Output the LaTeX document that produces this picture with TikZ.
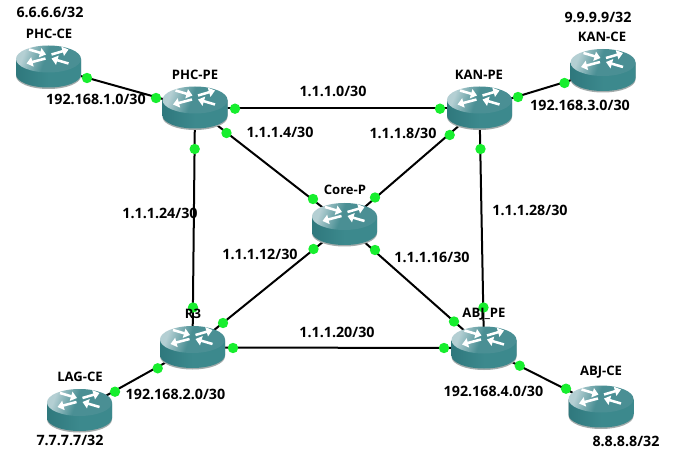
\documentclass[tikz,border=0pt]{standalone}
\usepackage{fontspec}
\setmainfont{Open Sans}
\usetikzlibrary{arrows.meta}
\definecolor{portgreen}{HTML}{17EE2E}
\definecolor{rlight}{HTML}{B4CFD3}
\definecolor{rmid}{HTML}{4A8F94}
\definecolor{rside}{HTML}{3C898D}
\definecolor{rsidedark}{HTML}{2F787D}
\definecolor{rshadow}{HTML}{A3ABAB}
\pgfdeclarehorizontalshading{toplight}{100bp}{color(0bp)=(rlight); color(27bp)=(rlight); color(47bp)=(rmid); color(100bp)=(rmid)}
\tikzset{
  routerpt/.style={inner sep=0pt,minimum size=0.5pt,outer sep=0pt},
  link/.style={line width=1.5pt,black},
  port/.style={circle,fill=portgreen,inner sep=0pt,minimum size=7.8pt},
  rname/.style={inner sep=0pt,font=\bfseries\fontsize{9.8}{11}\selectfont},
  addr/.style={inner sep=0pt,font=\bfseries\fontsize{10.7}{12}\selectfont},
  rarrow/.style={white,line width=1.9pt,-{Triangle[length=4.6pt,width=7pt]}},
}
\newcommand{\routerart}[1]{%
  \begin{scope}[shift={(#1)}]
    \fill[rshadow] (-32.5,-7) -- (-32.5,9) arc[start angle=180,end angle=0,x radius=32.5,y radius=13] -- (32.5,-7) -- cycle;
    \shade[left color=rsidedark,right color=rside,middle color=rside] (-32.5,-8) -- (-32.5,7.5) arc[start angle=180,end angle=0,x radius=32.5,y radius=13] -- (32.5,-8) -- cycle;
    \shade[shading=toplight,shading angle=-20] (0,-8) ellipse[x radius=32.5,y radius=13.5];
    \draw[rarrow] (-19.5,-17.5) -- (-2.5,-12.5);
    \draw[rarrow] (3,-12.5) -- (20,-17.5);
    \draw[rarrow] (-3,-8.5) -- (-22,-3.5);
    \draw[rarrow] (20,-3.5) -- (3,-8.5);
  \end{scope}}
\begin{document}
\begin{tikzpicture}[x=0.75pt,y=-0.75pt]
\fill[white] (0,0) rectangle (678,463);
\useasboundingbox (0,0) rectangle (678,463);
% routers
\node[routerpt] (PHCCE) at (48.5,67) {};
\node[routerpt] (PHCPE) at (195,108) {};
\node[routerpt] (KANPE) at (479.5,108) {};
\node[routerpt] (KANCE) at (603,70.5) {};
\node[routerpt] (CoreP) at (344.5,224.5) {};
\node[routerpt] (RThree) at (192.5,347.5) {};
\node[routerpt] (ABJPE) at (484,348) {};
\node[routerpt] (LAGCE) at (79.5,410.5) {};
\node[routerpt] (ABJCE) at (601,407) {};
% links
\draw[link] (PHCCE) -- (PHCPE);
\draw[link] (PHCPE) -- (KANPE);
\draw[link] (PHCPE) -- (CoreP);
\draw[link] (PHCPE) -- (RThree);
\draw[link] (KANPE) -- (CoreP);
\draw[link] (KANPE) -- (ABJPE);
\draw[link] (KANPE) -- (KANCE);
\draw[link] (CoreP) -- (RThree);
\draw[link] (CoreP) -- (ABJPE);
\draw[link] (RThree) -- (ABJPE);
\draw[link] (RThree) -- (LAGCE);
\draw[link] (ABJPE) -- (ABJCE);
% router art
\foreach \r in {PHCCE,PHCPE,KANPE,KANCE,CoreP,RThree,ABJPE,LAGCE,ABJCE}{\routerart{\r}}
% ports
\foreach \n/\x/\y in {p1/87/78,p2/156/98,p3/235/108.7,p4/440/108.7,p5/226.5/133,p6/313/199,
  p7/194.7/149,p8/193/307.5,p9/449.7/135,p10/375/197.5,p11/480.5/149,p12/483.5/307.5,
  p13/518/97,p14/564.5/83,p15/313.5/249,p16/223/323,p17/375/250,p18/454/321.5,
  p19/233/348,p20/444/348,p21/157.7/368.3,p22/115/391.7,p23/519.7/365.7,p24/566/388.7}{
  \node[port] (\n) at (\x,\y) {};
}
% router names
\node[rname] (nPHCCE) at (49,34) {PHC-CE};
\node[rname] (nPHCPE) at (195,74.5) {PHC-PE};
\node[rname] (nKANPE) at (479,74.5) {KAN-PE};
\node[rname] (nKANCE) at (602,37) {KAN-CE};
\node[rname] (nCoreP) at (345,190) {Core-P};
\node[rname] (nRThree) at (193,314) {R3};
\node[rname] (nABJPE) at (484,314) {ABJ\_PE};
\node[rname] (nLAGCE) at (80,377) {LAG-CE};
\node[rname] (nABJCE) at (601,372) {ABJ-CE};
% addresses
\node[addr] (a1) at (50,12.5) {6.6.6.6/32};
\node[addr] (a2) at (96,99.5) {192.168.1.0/30};
\node[addr] (a3) at (333,91) {1.1.1.0/30};
\node[addr] (a4) at (280,132) {1.1.1.4/30};
\node[addr] (a5) at (403,133) {1.1.1.8/30};
\node[addr] (a6) at (598,17) {9.9.9.9/32};
\node[addr] (a7) at (580,105.5) {192.168.3.0/30};
\node[addr] (a8) at (160,213) {1.1.1.24/30};
\node[addr] (a9) at (530,210) {1.1.1.28/30};
\node[addr] (a10) at (260,254) {1.1.1.12/30};
\node[addr] (a11) at (432,257) {1.1.1.16/30};
\node[addr] (a12) at (337,332) {1.1.1.20/30};
\node[addr] (a13) at (175.5,394) {192.168.2.0/30};
\node[addr] (a14) at (70,440) {7.7.7.7/32};
\node[addr] (a15) at (493.5,391) {192.168.4.0/30};
\node[addr] (a16) at (626,441) {8.8.8.8/32};
\end{tikzpicture}
\end{document}
